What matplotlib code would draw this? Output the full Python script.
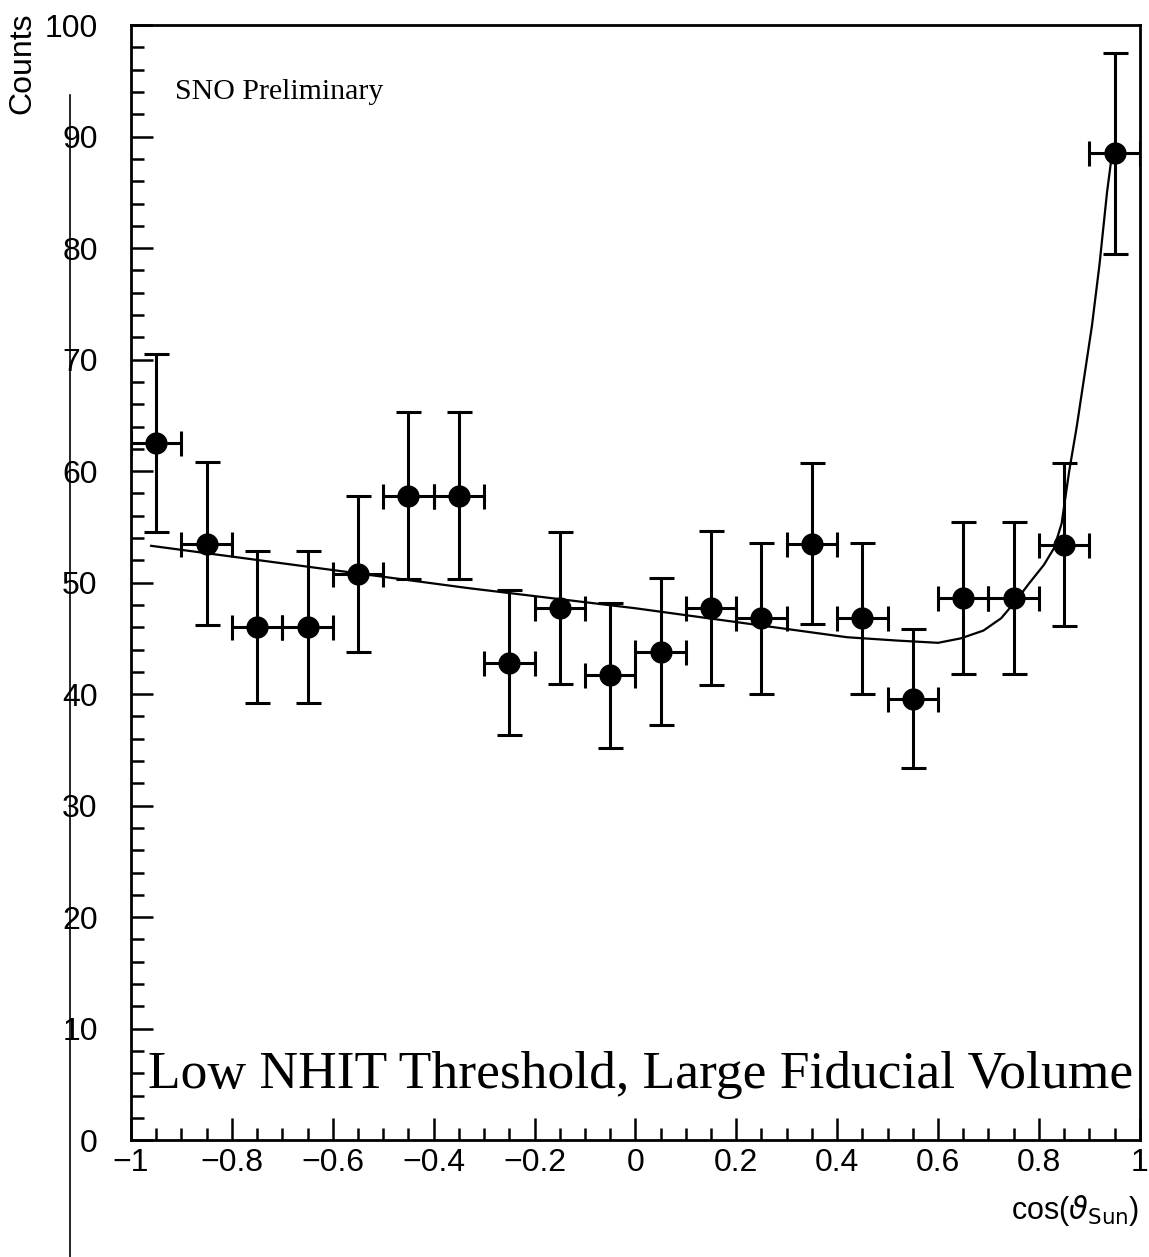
import numpy as np
from matplotlib import pyplot as plt
from matplotlib.ticker import MultipleLocator

# データ (cos theta_sun のビン)
cos_bins = [-0.95, -0.85, -0.75, -0.65, -0.55, -0.45, -0.35, -0.25, -0.15, -0.05,
            0.05, 0.15, 0.25, 0.35, 0.45, 0.55, 0.65, 0.75, 0.85, 0.95]
counts = [62.5, 53.5, 46.0, 46.0, 50.8, 57.8, 57.8, 42.8, 47.7, 41.7,
          43.8, 47.7, 46.8, 53.5, 46.8, 39.6, 48.6, 48.6, 53.4, 88.5]
count_err = [8.0, 7.3, 6.8, 6.8, 7.0, 7.5, 7.5, 6.5, 6.8, 6.5,
             6.6, 6.9, 6.75, 7.25, 6.75, 6.2, 6.8, 6.8, 7.3, 9.0]
bin_halfwidth = [0.05] * 20

# フィット曲線
fit_x = [-0.96, -0.33, 0.0, 0.42, 0.52, 0.6, 0.645, 0.69, 0.725, 0.755, 0.78,
         0.81, 0.83, 0.845, 0.86, 0.875, 0.89, 0.905, 0.92, 0.935, 0.945]
fit_y = [53.3, 49.5, 47.7, 45.1, 44.8, 44.6, 45.0, 45.7, 46.8, 48.4, 49.9,
         51.6, 53.1, 55.3, 60.0, 64.0, 68.5, 73.0, 78.5, 85.0, 88.5]

x_ticks = [-1, -0.8, -0.6, -0.4, -0.2, 0, 0.2, 0.4, 0.6, 0.8, 1]
x_ticklabels = ["\u22121", "\u22120.8", "\u22120.6", "\u22120.4", "\u22120.2",
                "0", "0.2", "0.4", "0.6", "0.8", "1"]
y_ticks = [0, 10, 20, 30, 40, 50, 60, 70, 80, 90, 100]

plt.rcParams["font.family"] = ["Liberation Sans", "DejaVu Sans"]
plt.rcParams["mathtext.fontset"] = "dejavusans"

fig = plt.figure(figsize=(11.49, 12.57), dpi=100)
ax = fig.add_axes([0.114, 0.093, 0.878, 0.887])

# データ点
ax.errorbar(cos_bins, counts, xerr=bin_halfwidth, yerr=count_err, fmt="o",
            color="black", markersize=15, elinewidth=2.2, capsize=9,
            capthick=2.2, zorder=3)
# フィット
ax.plot(fit_x, fit_y, color="black", linewidth=1.6, zorder=2)

ax.set_xlim(-1, 1)
ax.set_ylim(0, 100)
ax.set_xticks(x_ticks)
ax.set_xticklabels(x_ticklabels)
ax.set_yticks(y_ticks)
ax.xaxis.set_minor_locator(MultipleLocator(0.05))
ax.yaxis.set_minor_locator(MultipleLocator(2))
ax.tick_params(which="both", direction="in", top=False, right=False,
               width=1.8, labelsize=23, colors="black")
ax.tick_params(which="major", length=16)
ax.tick_params(which="minor", length=9)
ax.tick_params(axis="y", which="major", pad=24)
ax.tick_params(axis="x", which="major", pad=6)
for s in ax.spines.values():
    s.set_linewidth(2)

# ラベル
ax.text(1.0, -0.063, r"cos($\vartheta_{\mathrm{Sun}}$)", transform=ax.transAxes,
        ha="right", va="center", fontsize=22)
fig.text(22 / 1149, 1 - 12 / 1257, "Counts", rotation=90, ha="center",
         va="top", fontsize=23)

ax.text(0.0436, 0.94, "SNO Preliminary", transform=ax.transAxes,
        ha="left", va="center", fontsize=21.5, family="Liberation Serif")
ax.text(0.017, 0.047, "Low NHIT Threshold, Large Fiducial Volume",
        transform=ax.transAxes, ha="left", va="baseline", fontsize=38.5,
        family="Liberation Serif")

# スキャンの縦線
fig.add_artist(plt.Line2D([70 / 1149, 70 / 1149], [0, 1 - 95 / 1257],
                          transform=fig.transFigure, color="black",
                          linewidth=1.2))

fig.savefig("out.png", dpi=100)
